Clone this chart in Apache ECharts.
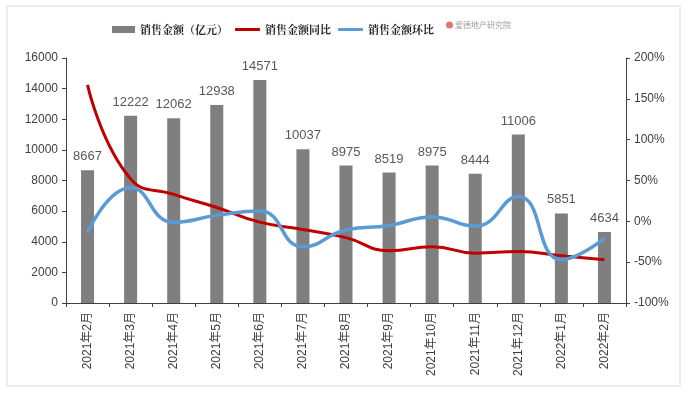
<!DOCTYPE html>
<html><head><meta charset="utf-8">
<script src="https://cdn.jsdelivr.net/npm/echarts@6/dist/echarts.min.js"></script>
<style>html,body{margin:0;padding:0;background:#fff;}#c{width:688px;height:395px;}</style>
</head><body><div id="c"></div>
<script>
var categories = ['2021年2月','2021年3月','2021年4月','2021年5月','2021年6月','2021年7月','2021年8月','2021年9月','2021年10月','2021年11月','2021年12月','2022年1月','2022年2月'];
var salesAmount = [8667,12222,12062,12938,14571,10037,8975,8519,8975,8444,11006,5851,4634];
var yoyPct = [167,52,33,17,-1,-10,-20,-36,-31,-39,-37,-42,-47];
var momPct = [-13.5,41,-1.3,7.3,12.6,-31.1,-10.6,-5.1,5.4,-5.9,30.3,-46.8,-20.8];
var seriesNames = ['销售金额（亿元）','销售金额同比','销售金额环比'];
var watermark = '爱德地产研究院';

var chart = echarts.init(document.getElementById('c'), null, {renderer:'canvas'});
var axisFont = 'Liberation Sans, Arial, Noto Sans CJK SC, sans-serif';
var legendText = {fontSize:11, color:'#262626', fontFamily:'Noto Serif CJK SC, Noto Sans CJK SC, serif', fontWeight:'bold'};
chart.setOption({
  animation:false,
  backgroundColor:'#fff',
  graphic:[
    {type:'rect', shape:{x:7,y:6,width:673,height:380}, style:{fill:'none', stroke:'#d9d9d9', lineWidth:1}, silent:true},
    {type:'circle', shape:{cx:449.5,cy:25,r:3.5}, style:{fill:'#e57373'}},
    {type:'text', x:455, y:25, style:{text:watermark, fontSize:8, fill:'#a0a0a0', verticalAlign:'middle', fontFamily:'Noto Sans CJK SC'}}
  ],
  legend:[
    {data:[{name:seriesNames[0], icon:'rect'}], left:107, top:19, itemWidth:23, itemHeight:7, itemGap:4, textStyle:legendText, selectedMode:false},
    {data:[{name:seriesNames[1], icon:'roundRect'}], left:230, top:19, itemWidth:25, itemHeight:3, textStyle:legendText, selectedMode:false},
    {data:[{name:seriesNames[2], icon:'roundRect'}], left:333, top:19, itemWidth:25, itemHeight:3, textStyle:legendText, selectedMode:false}
  ],
  grid:{left:66, right:62, top:58, bottom:92},
  xAxis:{
    type:'category', data:categories, boundaryGap:true,
    axisLine:{lineStyle:{color:'#404040', width:1}},
    axisTick:{show:true, alignWithLabel:false, length:4, lineStyle:{color:'#404040'}},
    axisLabel:{rotate:90, fontSize:12, color:'#404040', margin:9, fontFamily:axisFont, interval:0}
  },
  yAxis:[
    {type:'value', min:0, max:16000, interval:2000,
     axisLine:{show:true, lineStyle:{color:'#404040'}},
     axisTick:{show:true, length:4, lineStyle:{color:'#404040'}},
     splitLine:{show:false},
     axisLabel:{fontSize:12, color:'#404040', margin:8, fontFamily:axisFont, formatter:function(v){return String(v);}}},
    {type:'value', min:-100, max:200, interval:50, position:'right',
     axisLine:{show:true, lineStyle:{color:'#404040'}},
     axisTick:{show:true, length:4, lineStyle:{color:'#404040'}},
     splitLine:{show:false},
     axisLabel:{fontSize:12, color:'#404040', margin:8, fontFamily:axisFont, formatter:'{value}%'}}
  ],
  series:[
    {name:seriesNames[0], type:'bar', data:salesAmount, barWidth:13, yAxisIndex:0,
     itemStyle:{color:'#7f7f7f'},
     label:{show:true, position:'top', distance:7, fontSize:13, color:'#595959', fontFamily:axisFont}},
    {name:seriesNames[1], type:'line', data:yoyPct, yAxisIndex:1, smooth:0.5, symbol:'none',
     lineStyle:{color:'#c00000', width:3}, itemStyle:{color:'#c00000'}},
    {name:seriesNames[2], type:'line', data:momPct, yAxisIndex:1, smooth:0.5, symbol:'none',
     lineStyle:{color:'#5b9bd5', width:3.5}, itemStyle:{color:'#5b9bd5'}}
  ]
});
</script></body></html>
